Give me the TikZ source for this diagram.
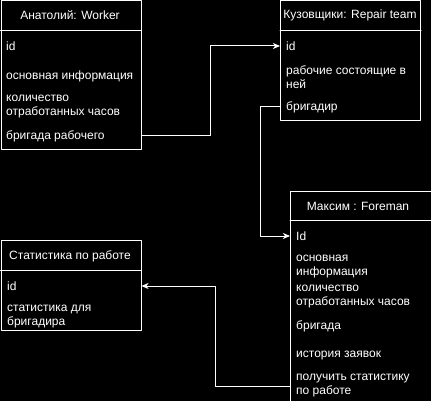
\documentclass[tikz,border=0pt]{standalone}
\usepackage{fontspec}
\setmainfont{Liberation Sans}
\usepackage{tikz}
\usetikzlibrary{arrows.meta}

\begin{document}
\begin{tikzpicture}
    [line cap=round,line join=round,x=1pt,y=-1pt,
     box/.style={draw=white,line width=1pt,rectangle,anchor=north west,inner sep=0pt},
     title/.style={text=white,font=\fontsize{12}{14}\selectfont,inner sep=0pt},
     row/.style={text=white,font=\fontsize{12}{14}\selectfont,anchor=west,align=left,inner sep=0pt},
     conn/.style={draw=white,line width=1pt,-{Stealth[length=7pt,width=6pt,inset=2pt]}}]
%background and clipping of the cropped box
\path[use as bounding box,fill=black] (0,0) rectangle (431,401);
\clip (0,0) rectangle (431,401);

%worker
\node[box,minimum width=140pt,minimum height=149pt] (wBox) at (0.5,0.5) {};
\draw[white,line width=1pt] ([yshift=-30pt]wBox.north west) -- ([yshift=-30pt]wBox.north east);
\node[title] (wTitle) at (70,15) {Анатолий: Worker};
\node[row] (wId) at (6,46) {id};
\node[row] (wInfo) at (6,76) {основная информация};
\node[row] (wHours) at (6,107) {количество\\отработанных часов};
\node[row] (wBrig) at (6,136) {бригада рабочего};

%repair team
\node[box,minimum width=140pt,minimum height=119.5pt] (rBox) at (280,0.5) {};
\draw[white,line width=1pt] ([yshift=-30pt]rBox.north west) -- ([yshift=-30pt]rBox.north east);
\node[title] (rTitle) at (350,15) {Кузовщики: Repair team};
\node[row] (rId) at (286,46) {id};
\node[row] (rStaff) at (286,77.5) {рабочие состоящие в\\ней};
\node[row] (rBoss) at (286,107) {бригадир};

%foreman (cut off at the right and bottom)
\node[box,minimum width=150pt,minimum height=230pt] (fBox) at (290,190.5) {};
\draw[white,line width=1pt] ([yshift=-30pt]fBox.north west) -- ([yshift=-30pt]fBox.north east);
\node[title] (fTitle) at (358,206) {Максим : Foreman};
\node[row] (fId) at (296,236) {Id};
\node[row] (fInfo) at (296,266.5) {основная\\информация};
\node[row] (fHours) at (296,297) {количество\\отработанных часов};
\node[row] (fBrig) at (296,326) {бригада};
\node[row] (fHist) at (296,356) {история заявок};
\node[row] (fStat) at (296,386) {получить статистику\\по работе};

%statistics
\node[box,minimum width=140pt,minimum height=90pt] (sBox) at (0.5,240) {};
\draw[white,line width=1pt] ([yshift=-30pt]sBox.north west) -- ([yshift=-30pt]sBox.north east);
\node[title] (sTitle) at (70,256) {Статистика по работе};
\node[row] (sId) at (7,286) {id};
\node[row] (sText) at (7,317) {статистика для\\бригадира};

%connectors
\coordinate (jogA) at (210,0);
\coordinate (jogB) at (260,0);
\coordinate (jogC) at (215,0);
\draw[conn] (wBox.east |- wBrig) -- (jogA |- wBrig) |- (rBox.west |- rId);
\draw[conn] (rBox.west |- rBoss) -- (jogB |- rBoss) |- (fBox.west |- fId);
\draw[conn] (fBox.west |- fStat) -- (jogC |- fStat) |- (sBox.east |- sId);

\end{tikzpicture}
\end{document}
